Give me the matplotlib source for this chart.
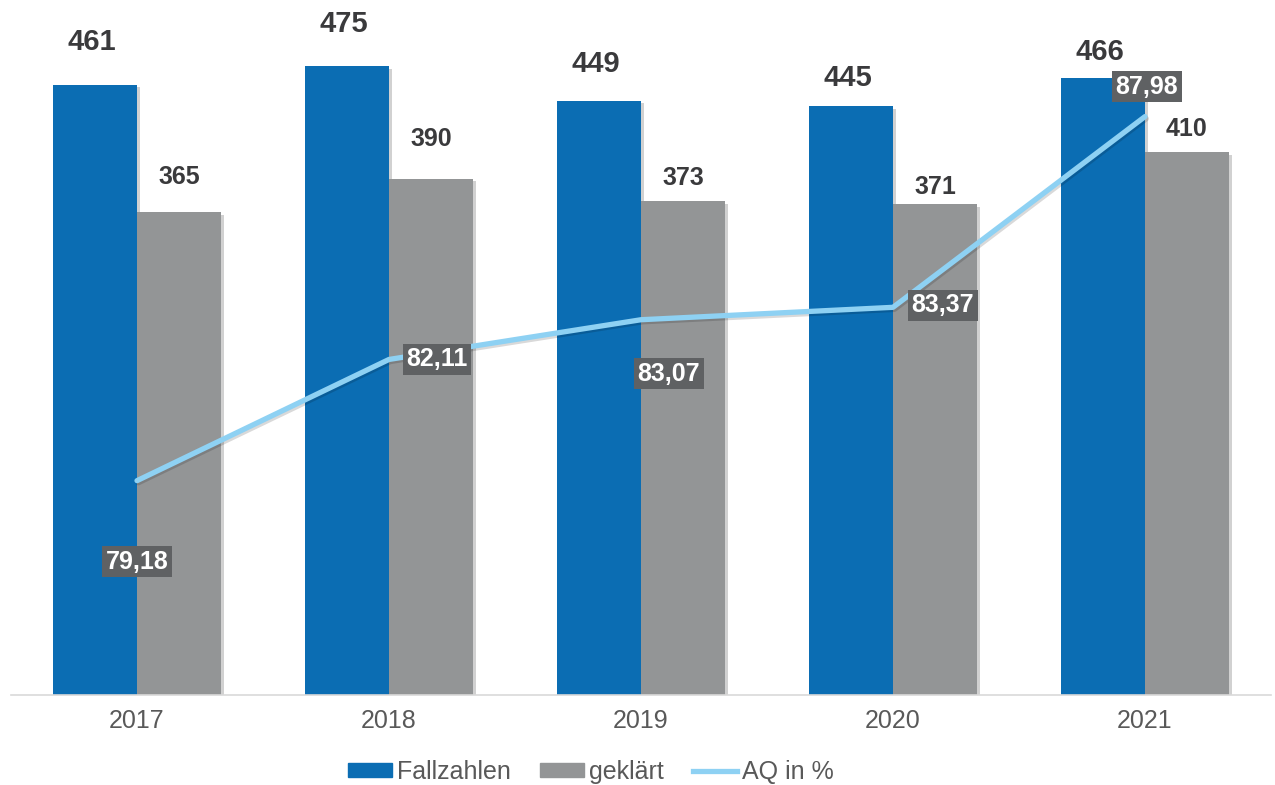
import matplotlib.pyplot as plt
import matplotlib.patheffects as pe
from matplotlib.patches import Patch
from matplotlib.lines import Line2D
import numpy as np

plt.rcParams["font.family"] = ["Liberation Sans", "DejaVu Sans"]

# case numbers per year
years = ["2017", "2018", "2019", "2020", "2021"]
fallzahlen = [461, 475, 449, 445, 466]
geklaert = [365, 390, 373, 371, 410]
aq = [79.18, 82.11, 83.07, 83.37, 87.98]

# label placement (pixels above bar top / offset of AQ boxes)
blue_lift = [43, 42, 37, 28, 26]
grey_lift = [35, 40, 23, 17, 23]
aq_offsets = [(0, -81), (48, 0), (28, -54), (50, 2), (2, 30)]

blue = "#0B6DB3"
grey = "#939596"
light_blue = "#8ED1F3"
label_col = "#3A3A3C"

fig = plt.figure(figsize=(12.75, 7.85), dpi=100)
ax = fig.add_axes([11 / 1275, 90 / 785, 1260 / 1275, 662 / 785])

x = np.arange(len(years))
w = 1 / 3
shadow = [pe.SimplePatchShadow(offset=(2, -2), shadow_rgbFace="#000000", alpha=0.18), pe.Normal()]

b1 = ax.bar(x - w / 2, fallzahlen, w, color=blue, zorder=2)
b2 = ax.bar(x + w / 2, geklaert, w, color=grey, zorder=2)
for bar in list(b1) + list(b2):
    bar.set_path_effects(shadow)

ax.set_xlim(-0.5, len(years) - 0.5)
ax.set_ylim(0, 500)

for xi, v, lift in zip(x, fallzahlen, blue_lift):
    ax.annotate(str(v), (xi - w / 2, v), xytext=(-3, lift), textcoords="offset pixels",
                ha="center", va="center", fontsize=21, fontweight="bold", color=label_col)
for xi, v, lift in zip(x, geklaert, grey_lift):
    ax.annotate(str(v), (xi + w / 2, v), xytext=(0, lift), textcoords="offset pixels",
                ha="center", va="center", fontsize=18, fontweight="bold", color=label_col)

for s in ["top", "right", "left"]:
    ax.spines[s].set_visible(False)
ax.spines["bottom"].set_color("#D9D9D9")
ax.spines["bottom"].set_linewidth(1.2)
ax.set_yticks([])
ax.set_xticks(x)
ax.set_xticklabels(years, fontsize=18, color="#595959")
ax.tick_params(axis="x", length=0, pad=10)

# clearance rate on a hidden second axis
ax2 = ax.twinx()
ax2.set_ylim(74, 90)
ax2.set_yticks([])
for s in ax2.spines.values():
    s.set_visible(False)
ax2.plot(x, aq, color=light_blue, lw=3.8, solid_capstyle="round", zorder=3,
         path_effects=[pe.SimpleLineShadow(offset=(1, -1.5), alpha=0.15), pe.Normal()])

for xi, v, off in zip(x, aq, aq_offsets):
    ax2.annotate(f"{v:.2f}".replace(".", ","), (xi, v), xytext=off, textcoords="offset pixels",
                 ha="center", va="center", fontsize=18, fontweight="bold", color="white",
                 bbox=dict(boxstyle="square,pad=0.15", fc="#5F6163", ec="none"), zorder=4)

handles = [
    Patch(color=blue, label="Fallzahlen"),
    Patch(color=grey, label="geklärt"),
    Line2D([], [], color=light_blue, lw=3.8, label="AQ in %"),
]
fig.legend(handles=handles, loc="center", bbox_to_anchor=(591 / 1275, 1 - 772 / 785),
           ncol=3, frameon=False, fontsize=18, handlelength=1.75, handleheight=0.45,
           handletextpad=0.22, columnspacing=1.15, labelcolor="#595959",
           borderpad=0.2)

fig.savefig("out.png", dpi=100)
